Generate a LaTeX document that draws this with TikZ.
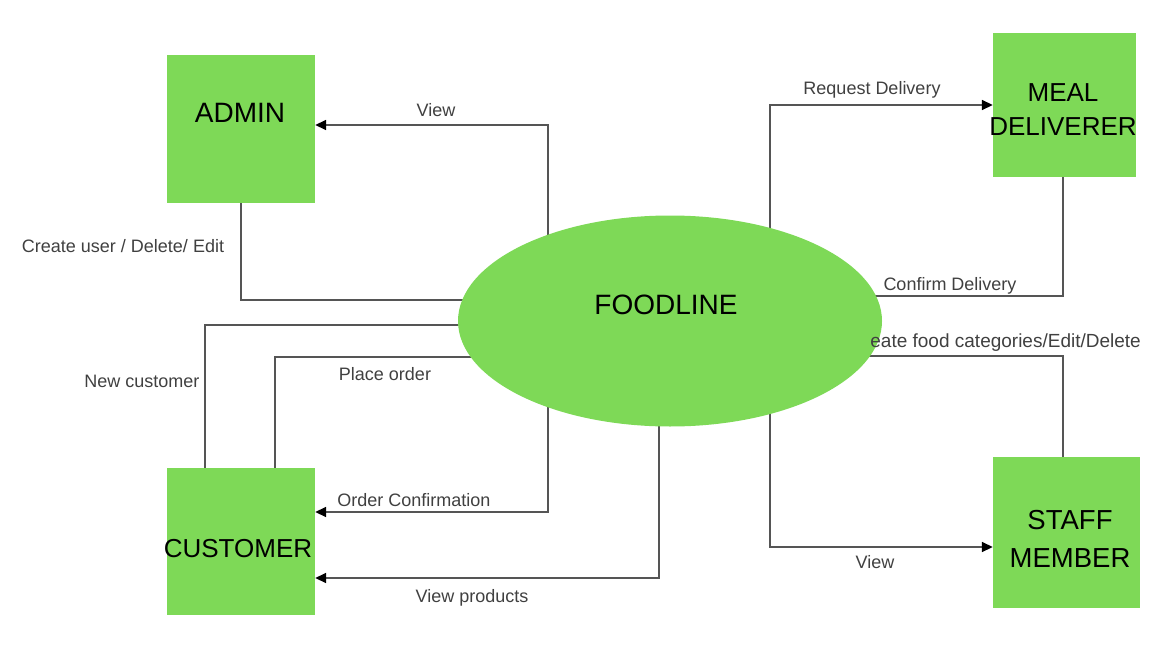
\documentclass[tikz,border=0pt]{standalone}
\usepackage{fontspec}
\setmainfont{Liberation Sans}
\usetikzlibrary{shapes.geometric,arrows.meta,backgrounds}
\definecolor{boxgreen}{HTML}{7ED957}
\definecolor{linegray}{HTML}{555555}
\definecolor{labelgray}{HTML}{404040}

\begin{document}
\begin{tikzpicture}[x=1pt,y=-1pt,
        entity/.style={fill=boxgreen, minimum width=148pt, minimum height=148pt, inner sep=0pt},
        process/.style={ellipse, fill=boxgreen, minimum width=424pt, minimum height=211pt, inner sep=0pt},
        entitytext/.style={font=\fontsize{26}{34}\selectfont, align=center, inner sep=0pt},
        flow/.style={linegray, line width=1.6pt},
        flowarrow/.style={flow, -{Triangle[length=11pt,width=10pt,color=black]}},
        flowlabel/.style={font=\fontsize{18}{20}\selectfont, text=labelgray, inner sep=0pt}]
            \useasboundingbox (0,0) rectangle (1169,658);

            \node[process] (food) at (670,321) {};
            \node[entitytext, font=\fontsize{28}{34}\selectfont] (foodline) at (666,305) {FOODLINE};

            \node[entity] (admin) at (241,129) {};
            \node[entity, minimum height=147pt] (customer) at (241,541.5) {};
            \node[entity, minimum width=143pt, minimum height=144pt] (meal) at (1064.5,105) {};
            \node[entity, minimum width=147pt, minimum height=151pt] (staff) at (1066.5,532.5) {};

            \node[entitytext, font=\fontsize{28}{34}\selectfont] (admintext) at (240,113) {ADMIN};
            \node[entitytext] (customertext) at (238,549) {CUSTOMER};
            \node[entitytext] (mealtext) at (1063,110) {MEAL\\DELIVERER};
            \node[entitytext, font=\fontsize{27.5}{38}\selectfont] (stafftext) at (1070,539) {STAFF\\MEMBER};

            \coordinate (c548) at (548,0);
            \coordinate (c659) at (659,0);
            \coordinate (c770) at (770,0);

            \begin{scope}[on background layer]
                \draw[flowarrow] (food.center -| c548) |- ([yshift=4pt]admin.east);
                \draw[flow] (admin.south) |- ([yshift=21pt]food.center);
                \draw[flow] ([xshift=-36pt]customer.north) |- ([yshift=-4pt]food.center);
                \draw[flow] ([xshift=34pt]customer.north) |- ([yshift=-36pt]food.center);
                \draw[flowarrow] (food.center -| c548) |- ([yshift=29.5pt]customer.east);
                \draw[flowarrow] (food.center -| c659) |- ([yshift=-36.5pt]customer.east);
                \draw[flowarrow] (food.center -| c770) |- (meal.west);
                \draw[flow] ([xshift=-1.5pt]meal.south) |- ([yshift=25pt]food.center);
                \draw[flow] ([xshift=-3.5pt]staff.north) |- ([yshift=-35pt]food.center);
                \draw[flowarrow] (food.center -| c770) |- ([yshift=-14.5pt]staff.west);
            \end{scope}

            \node[flowlabel] (lview) at (436,110) {View};
            \node[flowlabel] (lcreate) at (123,246) {Create user / Delete/ Edit};
            \node[flowlabel] (lnew) at (142,381) {New customer};
            \node[flowlabel] (lplace) at (385,374) {Place order};
            \node[flowlabel] (lconfirm) at (414,500) {Order Confirmation};
            \node[flowlabel] (lproducts) at (472,598) {View products};
            \node[flowlabel] (lrequest) at (872,90) {Request Delivery};
            \node[flowlabel] (ldelivered) at (950,286) {Confirm Delivery};
            \node[flowlabel, font=\fontsize{19}{20}\selectfont, anchor=east] (lcategories) at (1141,343) {eate food categories/Edit/Delete};
            \node[flowlabel] (lviewstaff) at (875,562) {View};
\end{tikzpicture}
\end{document}
